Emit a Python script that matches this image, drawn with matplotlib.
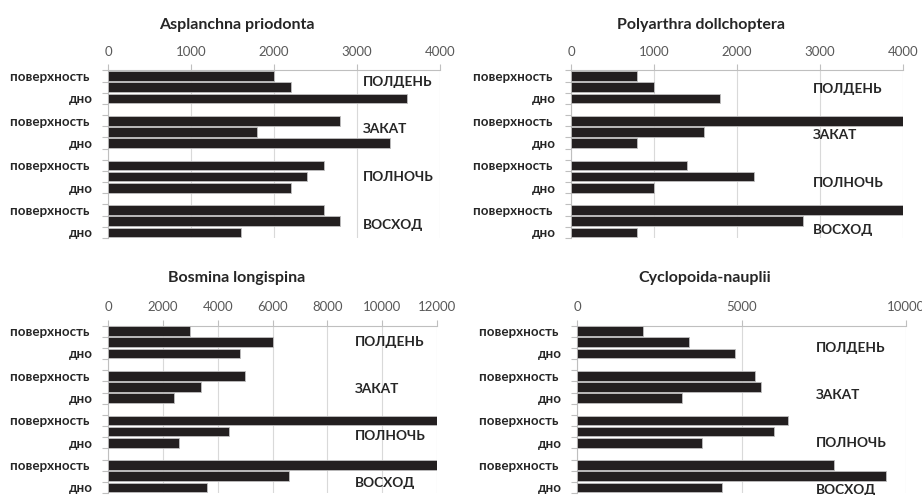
import numpy as np
import matplotlib.pyplot as plt

plt.rcParams['font.family'] = ['Lato', 'DejaVu Sans']

# Численность по слоям: поверхность, середина, дно — для каждого времени суток
times = ['ПОЛДЕНЬ', 'ЗАКАТ', 'ПОЛНОЧЬ', 'ВОСХОД']

asplanchna = [2000, 2200, 3600,
              2800, 1800, 3400,
              2600, 2400, 2200,
              2600, 2800, 1600]
polyarthra = [800, 1000, 1800,
              4000, 1600, 800,
              1400, 2200, 1000,
              4000, 2800, 800]
bosmina = [3000, 6000, 4800,
           5000, 3400, 2400,
           12000, 4400, 2600,
           12000, 6600, 3600]
cyclopoida = [2000, 3400, 4800,
              5400, 5600, 3200,
              6400, 6000, 3800,
              7800, 9400, 4400]

titles = ['Asplanchna priodonta', 'Polyarthra dollchoptera',
          'Bosmina longispina', 'Cyclopoida-nauplii']
x_max = [4000, 4000, 12000, 10000]
x_step = [1000, 1000, 2000, 5000]

W, H = 922, 495
# рамки осей в пикселях: left, right, top, bottom
boxes = [(108, 440, 70.5, 238),
         (571, 903, 70.5, 238),
         (108, 437, 325.5, 493),
         (577, 906, 325.5, 493)]
# центры заголовков (x, y) в пикселях
title_pos = [(237, 25), (701, 25), (237, 278), (705, 278)]
# положение подписей времени суток: x (в единицах оси) и y (номер строки)
label_x = [3070, 2910, 9000, 7260]
label_y = [[0.57, 4.75, 9.05, 13.35],
           [1.17, 5.26, 9.53, 13.77],
           [0.99, 5.17, 9.41, 13.59],
           [1.53, 5.74, 10.0, 14.2]]

# три строки на группу и пустая строка между группами
rows = [g * 4 + k for g in range(4) for k in range(3)]

fig = plt.figure(figsize=(W / 100, H / 100), dpi=100)
data = [asplanchna, polyarthra, bosmina, cyclopoida]

for i in range(4):
    l, r, t, b = boxes[i]
    ax = fig.add_axes([l / W, 1 - b / H, (r - l) / W, (b - t) / H])
    ax.barh(rows, data[i], height=0.86, color='#231f20',
            edgecolor='#bfbfbf', linewidth=0.6, zorder=3)
    ax.set_xlim(0, x_max[i])
    ax.set_ylim(14.5, -0.5)
    ax.xaxis.tick_top()
    ax.set_xticks(np.arange(0, x_max[i] + 1, x_step[i]))
    ax.tick_params(axis='x', colors='#bfbfbf', labelcolor='#595959',
                   labelsize=9.5, length=4, width=0.8, pad=5)
    ax.grid(axis='x', color='#d9d9d9', linewidth=0.8, zorder=0)

    ax.set_yticks([0, 2, 4, 6, 8, 10, 12, 14])
    ax.set_yticklabels(['поверхность ', 'дно'] * 4, fontsize=9.6,
                       fontweight='bold', color='#262626')
    ax.set_yticks(np.arange(-0.5, 15, 1), minor=True)
    ax.tick_params(axis='y', which='major', length=0, pad=11)
    ax.tick_params(axis='y', which='minor', length=4, width=0.8, color='#bfbfbf')

    for s in ['right', 'bottom']:
        ax.spines[s].set_visible(False)
    for s in ['top', 'left']:
        ax.spines[s].set_color('#bfbfbf')
        ax.spines[s].set_linewidth(0.8)

    for name, y in zip(times, label_y[i]):
        ax.text(label_x[i], y, name, fontsize=9.8, fontweight='bold',
                color='#262626', va='center', ha='left', zorder=4, clip_on=False)

    tx, ty = title_pos[i]
    fig.text(tx / W, 1 - ty / H, titles[i], fontsize=11.5, fontweight='bold',
             color='#262626', ha='center', va='center')

fig.savefig('out.png', dpi=100, facecolor='white')
